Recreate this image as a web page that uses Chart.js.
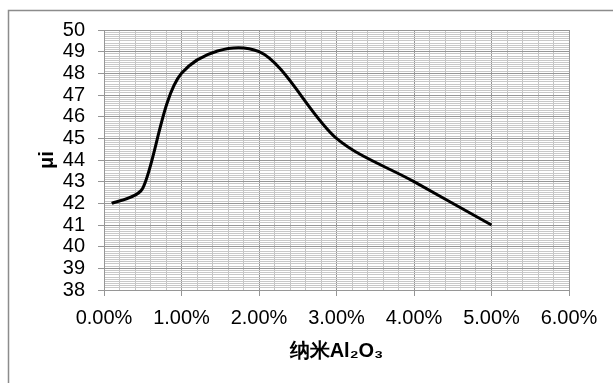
<!DOCTYPE html>
<html>
<head>
<meta charset="utf-8">
<script src="https://cdn.jsdelivr.net/npm/chart.js@4"></script>
<style>
    html, body { margin: 0; padding: 0; background: #fff; }
    #wrap { width: 613px; height: 383px; }
</style>
</head>
<body>
<div id="wrap"><canvas id="myChart" width="613" height="383"></canvas></div>
<script>
// Data

const alumina = [0.1, 0.5, 1, 2, 3, 4, 5];        // 纳米Al2O3, %
const mu = [42, 42.7, 48, 49, 45, 43, 41];          // μi

const xTitle = "纳米Al₂O₃";
const yTitle = "μi";

let points = [];
for (let i = 0; i < alumina.length; i++) {
    points.push({ x: alumina[i], y: mu[i] });
}

const isWhole = (v, step) => Math.abs(v / step - Math.round(v / step)) < 1e-6;

// Outer frame (only top and left edges show in the picture)

const framePlugin = {
    id: "frame",
    beforeDraw(chart) {
        const ctx = chart.ctx;
        ctx.save();
        ctx.fillStyle = "#fff";
        ctx.fillRect(0, 0, chart.width, chart.height);
        ctx.strokeStyle = "#8c8c8c";
        ctx.lineWidth = 1.5;
        ctx.beginPath();
        ctx.moveTo(8.5, chart.height);
        ctx.lineTo(8.5, 10.5);
        ctx.lineTo(chart.width, 10.5);
        ctx.stroke();
        ctx.restore();
    }
};

// Excel-like "smoothed line": uniform Catmull-Rom tangents (1/6),
// shortened when a neighbouring segment is short
const smoothPlugin = {
    id: "excelSmooth",
    beforeDatasetsDraw(chart) {
        chart.getSortedVisibleDatasetMetas().forEach((meta) => {
            const line = meta.dataset;
            if (!line) return;
            line.updateControlPoints(chart.chartArea, "x");
            const pts = meta.data;
            for (let i = 0; i < pts.length; i++) {
                const p = pts[i];
                const prev = pts[Math.max(i - 1, 0)];
                const next = pts[Math.min(i + 1, pts.length - 1)];
                const tx = (next.x - prev.x) / 6;
                const ty = (next.y - prev.y) / 6;
                const len = Math.hypot(tx, ty) || 1;
                const dIn = Math.hypot(p.x - prev.x, p.y - prev.y);
                const dOut = Math.hypot(next.x - p.x, next.y - p.y);
                const kIn = Math.min(1, dIn / 3 / len);
                const kOut = Math.min(1, dOut / 3 / len);
                p.cp1x = p.x - tx * kIn;
                p.cp1y = p.y - ty * kIn;
                p.cp2x = p.x + tx * kOut;
                p.cp2y = p.y + ty * kOut;
            }
            line._path = undefined;
        });
    }
};

// Setup

Chart.defaults.font.family = "'Liberation Sans', Arial, sans-serif";
Chart.defaults.font.size = 20;
Chart.defaults.color = "#000";

const data = {
    datasets: [
        {
            data: points,
            showLine: true,
            borderColor: "#000",
            borderWidth: 3,
            pointRadius: 0,
            tension: 0.4,
            fill: false
        }
    ]
};

// Config

const config = {
    type: "scatter",
    data,
    options: {
        responsive: false,
        animation: false,
        layout: {
            padding: { left: 0, top: 30, right: 44, bottom: 0 }
        },
        plugins: {
            legend: { display: false },
            tooltip: { enabled: false }
        },
        scales: {
            x: {
                type: "linear",
                min: 0,
                max: 6,
                afterFit: (scale) => { scale.height = 93; },
                ticks: {
                    stepSize: 0.2,
                    autoSkip: false,
                    maxRotation: 0,
                    padding: 10,
                    callback: (v) => isWhole(v, 1) ? Math.round(v).toFixed(2) + "%" : ""
                },
                grid: {
                    tickLength: 6,
                    color: (c) => c.tick && isWhole(c.tick.value, 1) ? "#969696" : "#c4c4c4",
                    tickColor: (c) => c.tick && isWhole(c.tick.value, 1) ? "#969696" : "rgba(0,0,0,0)"
                },
                border: { color: "#969696" },
                title: {
                    display: true,
                    text: xTitle,
                    font: { size: 20, weight: "bold" },
                    padding: { top: 0, bottom: 20 }
                }
            },
            y: {
                min: 38,
                max: 50,
                afterFit: (scale) => { scale.width = 104; },
                ticks: {
                    stepSize: 0.1,
                    autoSkip: false,
                    padding: 13,
                    callback: (v) => isWhole(v, 1) ? String(Math.round(v)) : ""
                },
                grid: {
                    tickLength: 6,
                    color: (c) => c.tick && isWhole(c.tick.value, 1) ? "#969696" : "#c8c8c8",
                    tickColor: (c) => c.tick && isWhole(c.tick.value, 1) ? "#969696" : "rgba(0,0,0,0)"
                },
                border: { color: "#969696" },
                title: {
                    display: true,
                    text: yTitle,
                    font: { size: 20, weight: "bold" },
                    padding: { top: 35, bottom: 0 }
                }
            }
        }
    },
    plugins: [framePlugin, smoothPlugin]
};

// Render init block

const myChart = new Chart(document.getElementById("myChart"), config);
</script>
</body>
</html>
